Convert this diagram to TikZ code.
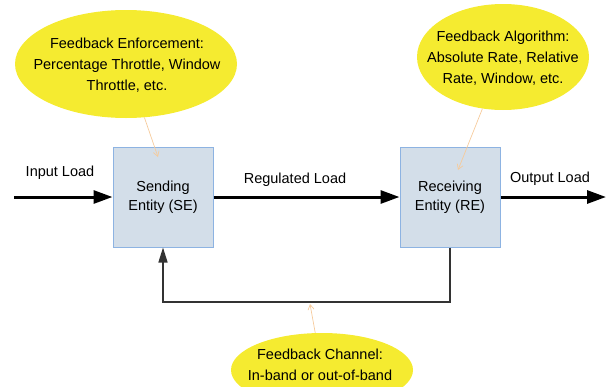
\documentclass[tikz,border=0pt]{standalone}
\usepackage{fontspec}
\setmainfont{Liberation Sans}
\usetikzlibrary{arrows.meta,shapes.geometric}
\definecolor{boxfill}{HTML}{D3DEE9}
\definecolor{boxline}{HTML}{8DB3E2}
\definecolor{notefill}{HTML}{F5EB30}
\definecolor{pointerline}{HTML}{F6CB9C}
\begin{document}
\begin{tikzpicture}[x=1pt,y=-1pt,
  entity/.style={draw=boxline,fill=boxfill,line width=1pt,minimum width=100pt,
    minimum height=100pt,align=center,font=\fontsize{14.5}{19}\selectfont},
  note/.style={ellipse,fill=notefill,inner sep=0pt},
  notetext/.style={align=center,inner sep=0pt,font=\fontsize{14.5}{21}\selectfont},
  lbl/.style={font=\fontsize{14.5}{16}\selectfont},
  load/.style={line width=3pt,-{Triangle[length=19pt,width=13pt]}},
  fb/.style={line width=1.5pt,draw=black!80,-{Triangle[length=15pt,width=9pt]}},
  pointer/.style={draw=pointerline,line width=0.7pt,-{Straight Barb[length=5pt,width=6pt]}}]
  \useasboundingbox (0,0) rectangle (616,386);
  \node[entity] (se) at (163,197) {Sending\\Entity (SE)};
  \node[entity] (re) at (450,197) {Receiving\\Entity (RE)};
  \coordinate (in) at (14,197);
  \coordinate (out) at (606,197);
  \coordinate (fbmid) at (310,302);
  \draw[load] (in) -- (se);
  \draw[load] (se) -- (re);
  \draw[load] (re) -- (out);
  \draw[fb] (re.south) |- (fbmid) -| (se.south);
  \node[lbl] (inlbl) at (60,173) {Input Load};
  \node[lbl] (reglbl) at (295,180) {Regulated Load};
  \node[lbl] (outlbl) at (550,179) {Output Load};
  % notes
  \node[note,minimum width=222pt,minimum height=108pt] (enf) at (126,64) {};
  \node[notetext] (enftext) at (127,65)
    {Feedback Enforcement:\\Percentage Throttle, Window\\Throttle, etc.};
  \node[note,minimum width=172pt,minimum height=106pt] (algo) at (503,57) {};
  \node[notetext] (algotext) at (503,58)
    {Feedback Algorithm:\\Absolute Rate, Relative\\Rate, Window, etc.};
  \node[note,minimum width=182pt,minimum height=74pt] (chan) at (322,370) {};
  \node[notetext] (chantext) at (320,365)
    {Feedback Channel:\\In-band or out-of-band};
  \coordinate (enftip) at (158,157);
  \coordinate (algotip) at (458,170);
  \coordinate (chantip) at (310,304);
  \draw[pointer] (enf) -- (enftip);
  \draw[pointer] (algo) -- (algotip);
  \draw[pointer] (chan) -- (chantip);
\end{tikzpicture}
\end{document}
